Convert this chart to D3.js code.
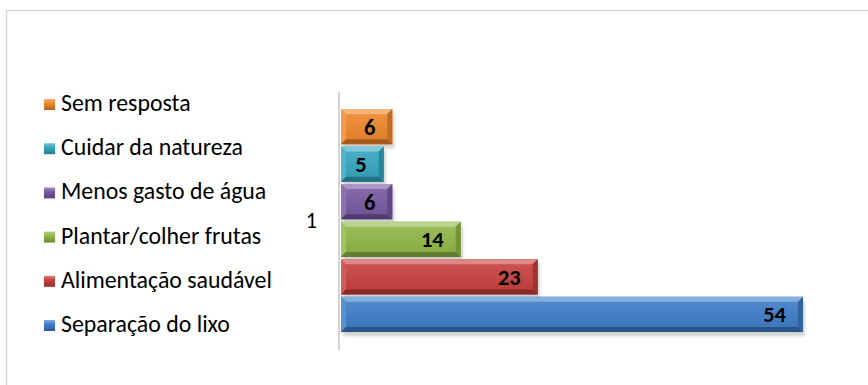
<!DOCTYPE html>
<html><head><meta charset="utf-8">
<script src="https://cdn.jsdelivr.net/npm/d3@7"></script>
<style>html,body{margin:0;padding:0;background:#fff;}svg{display:block;}</style>
</head><body>
<svg id="chart" width="868" height="385"></svg>
<script>
const categories = ["1"];
const seriesNames = ["Separação do lixo","Alimentação saudável","Plantar/colher frutas","Menos gasto de água","Cuidar da natureza","Sem resposta"];
const seriesValues = [54, 23, 14, 6, 5, 6];
const seriesColors = ["#3D7CC8","#C83F3D","#90B845","#7858A2","#33A6C0","#F0872A"];

const svg = d3.select("#chart");
const font = "Carlito, 'Open Sans', sans-serif";

// outer border
svg.append("rect").attr("x",6.5).attr("y",10.5).attr("width",900).attr("height",420)
  .attr("fill","#fff").attr("stroke","#d9d9d9").attr("stroke-width",1.5);

const defs = svg.append("defs");
const f = defs.append("filter").attr("id","sh").attr("x","-10%").attr("y","-20%").attr("width","130%").attr("height","160%");
f.append("feDropShadow").attr("dx",2).attr("dy",4).attr("stdDeviation",1.5).attr("flood-color","#000").attr("flood-opacity",0.18);

const x = d3.scaleLinear().domain([0,60]).range([341, 341+60*8.555]);
const yCat = d3.scaleBand().domain(categories).range([92,350]);
const order = seriesNames.map((d,i)=>i).reverse(); // top: Sem resposta
const y = d3.scaleBand().domain(order).range([109,332]).paddingInner(0.06);

// category axis line
svg.append("line").attr("x1",339).attr("x2",339).attr("y1",yCat.range()[0]).attr("y2",yCat.range()[1])
  .attr("stroke","#d4d4d4").attr("stroke-width",2);
svg.append("text").attr("x",317).attr("y",yCat(categories[0])+yCat.bandwidth()/2+6.5)
  .attr("text-anchor","end").attr("font-family",font).attr("font-size",22).attr("fill","#000").text(categories[0]);

function shade(c,k){ return k>=0 ? d3.interpolateRgb(c,"#fff")(k) : d3.interpolateRgb(c,"#000")(-k); }

seriesNames.forEach((name,i)=>{
  const c = seriesColors[i];
  const lg = defs.append("linearGradient").attr("id","g"+i).attr("x1",0).attr("x2",0).attr("y1",0).attr("y2",1);
  lg.append("stop").attr("offset","0%").attr("stop-color",shade(c,0.12));
  lg.append("stop").attr("offset","100%").attr("stop-color",shade(c,-0.08));
});

const bars = svg.append("g");
order.forEach(i=>{
  const c = seriesColors[i];
  const x0 = x(0), x1 = x(seriesValues[i]), y0 = y(i), y1 = y(i)+y.bandwidth();
  const b = 5;
  const g = bars.append("g");
  g.append("rect").attr("x",x0).attr("y",y0).attr("width",x1-x0).attr("height",y1-y0)
    .attr("fill","url(#g"+i+")").attr("filter","url(#sh)");
  const poly = (pts,fill)=> g.append("polygon").attr("points",pts.map(p=>p.join(",")).join(" ")).attr("fill",fill);
  poly([[x0,y0],[x1,y0],[x1-b,y0+b],[x0+b,y0+b]], shade(c,0.38));
  poly([[x0,y0],[x0+b,y0+b],[x0+b,y1-b],[x0,y1]], shade(c,0.15));
  poly([[x1,y0],[x1,y1],[x1-b,y1-b],[x1-b,y0+b]], shade(c,-0.2));
  poly([[x0,y1],[x0+b,y1-b],[x1-b,y1-b],[x1,y1]], shade(c,-0.32));
  g.append("text").attr("x",x1-17).attr("y",(y0+y1)/2+8).attr("text-anchor","end")
    .attr("font-family",font).attr("font-weight","bold").attr("font-size",22.5).attr("fill","#000")
    .text(seriesValues[i]);
});

// legend
const leg = svg.append("g");
const texts = [];
order.forEach((i,k)=>{
  const base = 111 + k*44.2;
  const c = seriesColors[i];
  const lgid = "lg"+i;
  const lg = defs.append("linearGradient").attr("id",lgid).attr("x1",0).attr("x2",0).attr("y1",0).attr("y2",1);
  lg.append("stop").attr("offset","0%").attr("stop-color",shade(c,0.35));
  lg.append("stop").attr("offset","40%").attr("stop-color",c);
  lg.append("stop").attr("offset","100%").attr("stop-color",shade(c,-0.25));
  leg.append("rect").attr("x",44).attr("y",base-12).attr("width",11).attr("height",11).attr("fill","url(#"+lgid+")");
  const t = leg.append("text").attr("x",61).attr("y",base)
    .attr("font-family",font).attr("font-size",20).attr("fill","#000").text(seriesNames[i]);
  texts.push(t);
});
// fit legend font size so the longest entry spans ~211px as in the reference
const maxW = d3.max(texts, t=>t.node().getComputedTextLength());
const fs = 20*211/maxW;
texts.forEach(t=>t.attr("font-size",fs));
</script>
</body></html>
